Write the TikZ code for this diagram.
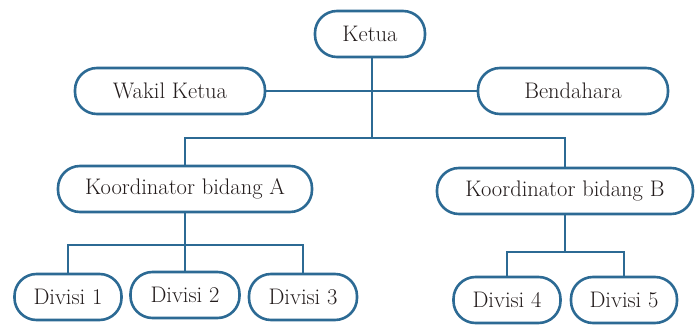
\documentclass[tikz,border=0pt]{standalone}
\usepackage{fontspec}
\setmainfont{Latin Modern Roman}
\definecolor{lineblue}{HTML}{2C6A94}
\definecolor{txt}{HTML}{231C1C}
\begin{document}
\begin{tikzpicture}[x=1pt,y=-1pt,
  box/.style={rectangle, rounded corners=22pt, draw=lineblue, line width=2.6pt, fill=white,
    text=txt, font=\fontsize{22.5}{26}\selectfont, minimum height=46pt, inner xsep=4pt},
  conn/.style={draw=lineblue, line width=2.6pt}]
\useasboundingbox (0,0) rectangle (699,336);
\node[box, minimum width=110pt] (ketua) at (370,34) {Ketua};
\node[box, minimum width=190pt] (wakil) at (170,91) {Wakil Ketua};
\node[box, minimum width=190pt] (bend) at (573,91) {Bendahara};
\node[box, minimum width=254pt] (ka) at (185,189) {Koordinator bidang A};
\node[box, minimum width=256pt] (kb) at (565,191) {Koordinator bidang B};
\node[box, minimum width=107pt] (d1) at (68,297) {Divisi 1};
\node[box, minimum width=109pt] (d2) at (185,295) {Divisi 2};
\node[box, minimum width=108pt] (d3) at (303,297) {Divisi 3};
\node[box, minimum width=107pt] (d4) at (507,300) {Divisi 4};
\node[box, minimum width=106pt] (d5) at (624,300) {Divisi 5};
\coordinate (j1) at (372,138);
\coordinate (ja) at (185,245);
\coordinate (jb) at (565,252);
\draw[conn] (wakil.east) -- (bend.west);
\draw[conn] (ketua.south -| j1) -- (j1);
\draw[conn] (ka.north) |- (j1) -| (kb.north);
\draw[conn] (ka.south) -- (ja);
\draw[conn] (d1.north) |- (ja) -| (d3.north);
\draw[conn] (ja) -- (d2.north);
\draw[conn] (kb.south) -- (jb);
\draw[conn] (d4.north) |- (jb) -| (d5.north);
\end{tikzpicture}
\end{document}
